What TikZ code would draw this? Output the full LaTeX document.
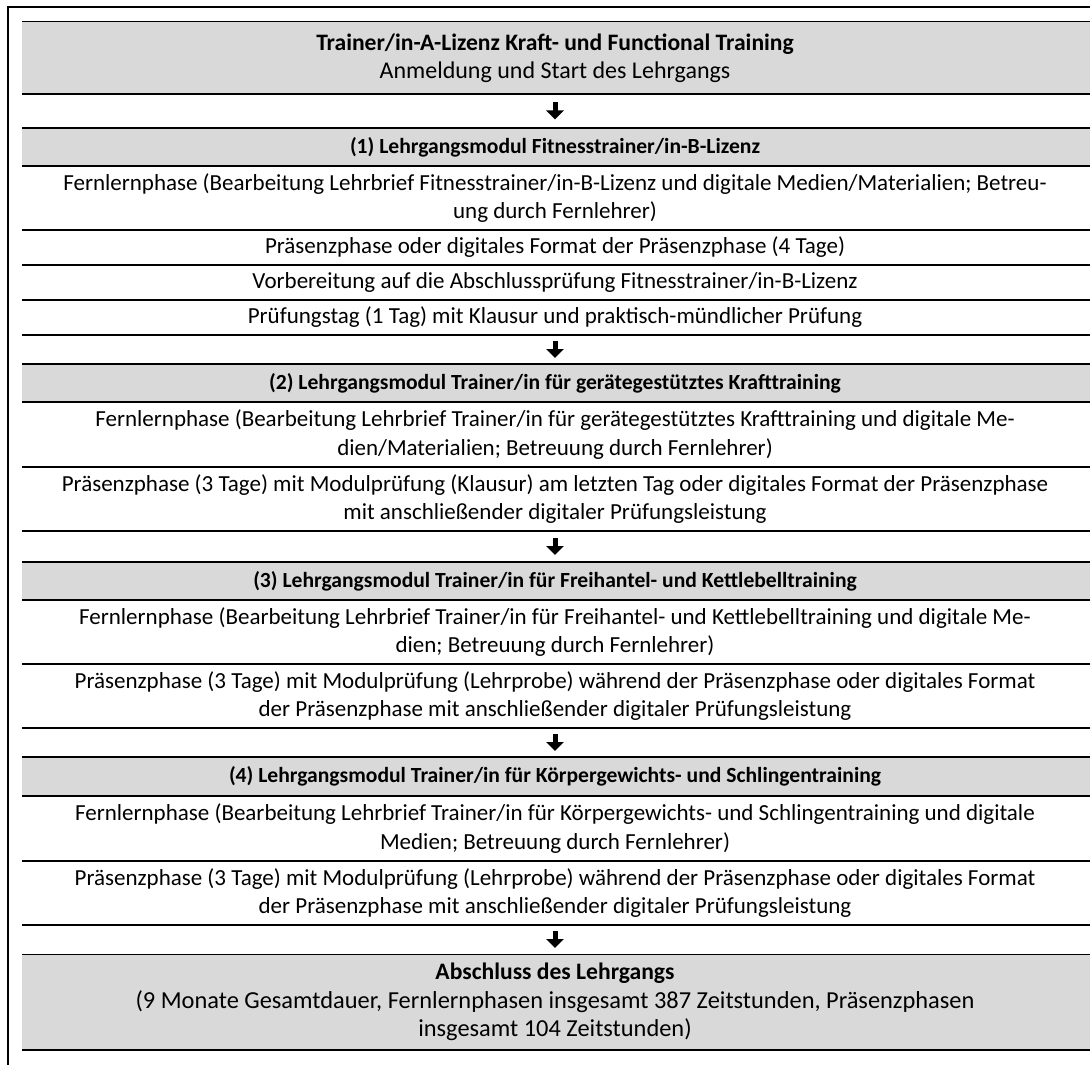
\documentclass[tikz,border=0pt]{standalone}
\usepackage{fontspec}
\setmainfont{Carlito}
\usepackage{tikz}
\usetikzlibrary{positioning}
\usetikzlibrary{arrows.meta}
\definecolor{rowgray}{RGB}{217,217,217}

\begin{document}
\begin{tikzpicture}[x=0.5pt,y=-0.5pt]
	\useasboundingbox (0,0) rectangle (1090,1064);
	\clip (0,0) rectangle (1090,1064);
	\draw [line width=1.2pt] (8,7) rectangle (1110,1080);

	\begin{scope}[fill=rowgray]
	    \fill (22,22) rectangle (1100,94);
	    \fill (22,128) rectangle (1100,166);
	    \fill (22,364) rectangle (1100,402);
	    \fill (22,562) rectangle (1100,600);
	    \fill (22,757) rectangle (1100,796);
	    \fill (22,954) rectangle (1100,1050);
	\end{scope}

	\begin{scope}[line width=0.5pt]
	    \draw (22,22) -- (1100,22);
	    \draw (22,954) -- (1100,954);
	\end{scope}
	\foreach \y in {94,128,166,230,265,300,335,364,402,467,531,562,600,664,728,757,796,861,925,1050}
	    \draw [line width=1pt] (22,\y) -- (1100,\y);

	\begin{scope}[every node/.style={font=\fontsize{11.5}{14.2}\selectfont,align=center,inner sep=0}]
	    \node (start) at (555,58) {\fontsize{11.8}{14.8}\selectfont\textbf{Trainer/in-A-Lizenz Kraft- und Functional Training}\\
	        \fontsize{12}{14.8}\selectfont Anmeldung und Start des Lehrgangs};
	    \node (m1) at (555,147) {\fontsize{10.8}{13}\selectfont\textbf{(1) Lehrgangsmodul Fitnesstrainer/in-B-Lizenz}};
	    \node (m1fern) at (555,198) {Fernlernphase (Bearbeitung Lehrbrief Fitnesstrainer/in-B-Lizenz und digitale Medien/Materialien; Betreu-\\ung durch Fernlehrer)};
	    \node (m1praes) at (555,247.5) {Präsenzphase oder digitales Format der Präsenzphase (4 Tage)};
	    \node (m1vorb) at (555,282.5) {Vorbereitung auf die Abschlussprüfung Fitnesstrainer/in-B-Lizenz};
	    \node (m1pruef) at (555,317.5) {Prüfungstag (1 Tag) mit Klausur und praktisch-mündlicher Prüfung};
	    \node (m2) at (555,383) {\fontsize{10.8}{13}\selectfont\textbf{(2) Lehrgangsmodul Trainer/in für gerätegestütztes Krafttraining}};
	    \node (m2fern) at (555,434.5) {Fernlernphase (Bearbeitung Lehrbrief Trainer/in für gerätegestütztes Krafttraining und digitale Me-\\dien/Materialien; Betreuung durch Fernlehrer)};
	    \node (m2praes) at (555,499) {Präsenzphase (3 Tage) mit Modulprüfung (Klausur) am letzten Tag oder digitales Format der Präsenzphase\\mit anschließender digitaler Prüfungsleistung};
	    \node (m3) at (555,581) {\fontsize{10.8}{13}\selectfont\textbf{(3) Lehrgangsmodul Trainer/in für Freihantel- und Kettlebelltraining}};
	    \node (m3fern) at (555,632) {Fernlernphase (Bearbeitung Lehrbrief Trainer/in für Freihantel- und Kettlebelltraining und digitale Me-\\dien; Betreuung durch Fernlehrer)};
	    \node (m3praes) at (555,696) {Präsenzphase (3 Tage) mit Modulprüfung (Lehrprobe) während der Präsenzphase oder digitales Format\\der Präsenzphase mit anschließender digitaler Prüfungsleistung};
	    \node (m4) at (555,776.5) {\fontsize{10.8}{13}\selectfont\textbf{(4) Lehrgangsmodul Trainer/in für Körpergewichts- und Schlingentraining}};
	    \node (m4fern) at (555,828.5) {Fernlernphase (Bearbeitung Lehrbrief Trainer/in für Körpergewichts- und Schlingentraining und digitale\\Medien; Betreuung durch Fernlehrer)};
	    \node (m4praes) at (555,893) {Präsenzphase (3 Tage) mit Modulprüfung (Lehrprobe) während der Präsenzphase oder digitales Format\\der Präsenzphase mit anschließender digitaler Prüfungsleistung};
	    \node (ende) at (555,1002) {\fontsize{11.8}{15}\selectfont\textbf{Abschluss des Lehrgangs}\\
	        \fontsize{12.2}{15}\selectfont(9 Monate Gesamtdauer, Fernlernphasen insgesamt 387 Zeitstunden, Präsenzphasen\\
	        \fontsize{12.2}{15}\selectfont insgesamt 104 Zeitstunden)};
	\end{scope}

	\coordinate (a1) at (555,102.5);  \coordinate (a1e) at (555,119.5);
	\coordinate (a2) at (555,341);    \coordinate (a2e) at (555,358);
	\coordinate (a3) at (555,538);    \coordinate (a3e) at (555,555);
	\coordinate (a4) at (555,734);    \coordinate (a4e) at (555,751);
	\coordinate (a5) at (555,931);    \coordinate (a5e) at (555,948);

	\begin{scope}[>={Triangle[width=8.5pt,length=4.5pt]},
	              every path/.style={line width=2.5pt}]
	    \draw [->] (a1) -- (a1e);
	    \draw [->] (a2) -- (a2e);
	    \draw [->] (a3) -- (a3e);
	    \draw [->] (a4) -- (a4e);
	    \draw [->] (a5) -- (a5e);
	\end{scope}
\end{tikzpicture}
\end{document}
